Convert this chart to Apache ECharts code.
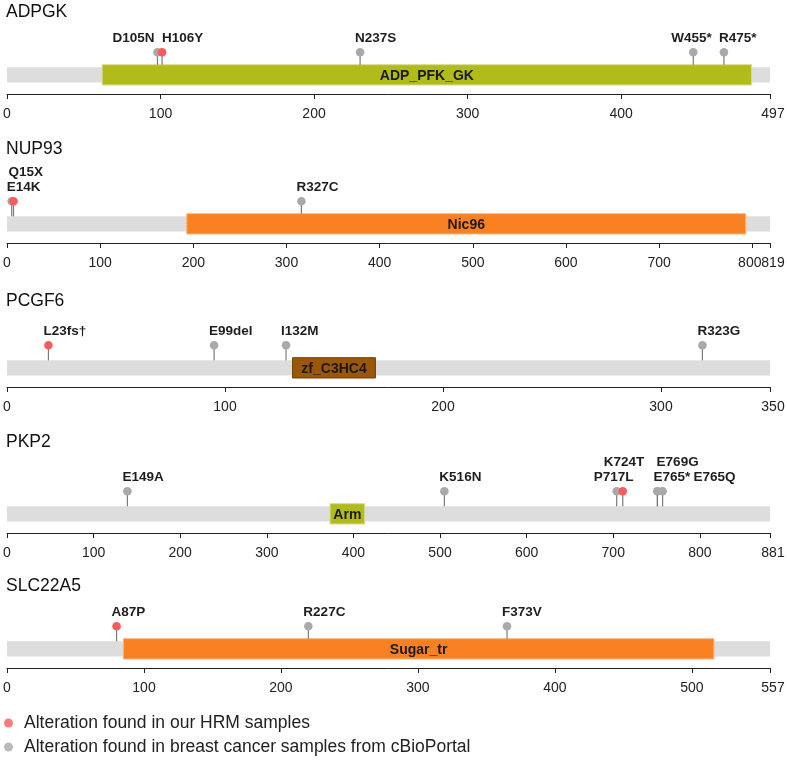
<!DOCTYPE html>
<html><head><meta charset="utf-8">
<script src="https://cdn.jsdelivr.net/npm/echarts@6/dist/echarts.min.js"></script>
<style>html,body{margin:0;padding:0;background:#fff}#c{width:787px;height:761px}</style>
</head><body><div id="c"></div>
<script>
// ---------------- data ----------------
const genes = ['ADPGK', 'NUP93', 'PCGF6', 'PKP2', 'SLC22A5'];
const proteinLengths = [497, 819, 350, 881, 557];
const tickValues = [
  [0, 100, 200, 300, 400, 497],
  [0, 100, 200, 300, 400, 500, 600, 700, 800, 819],
  [0, 100, 200, 300, 350],
  [0, 100, 200, 300, 400, 500, 600, 700, 800, 881],
  [0, 100, 200, 300, 400, 500, 557]
];
const domainNames = ['ADP_PFK_GK', 'Nic96', 'zf_C3HC4', 'Arm', 'Sugar_tr'];
const domainStarts = [62, 193, 131, 373, 85];
const domainEnds = [485, 793, 169, 413, 516];
const mutationLabels = [
  ['D105N', 'H106Y', 'N237S', 'W455*', 'R475*'],
  ['E14K', 'Q15X', 'R327C'],
  ['L23fs\u2020', 'E99del', 'I132M', 'R323G'],
  ['E149A', 'K516N', 'P717L', 'K724T', 'E765*', 'E765Q', 'E769G'],
  ['A87P', 'R227C', 'F373V']
];
const mutationPositions = [
  [98, 101, 230, 447, 467],
  [5, 7, 316],
  [19, 95, 128, 319],
  [139, 505, 704, 711, 751, 751, 757],
  [80, 220, 365]
];
const mutationSources = [
  ['cBioPortal', 'HRM', 'cBioPortal', 'cBioPortal', 'cBioPortal'],
  ['cBioPortal', 'HRM', 'cBioPortal'],
  ['HRM', 'cBioPortal', 'cBioPortal', 'cBioPortal'],
  ['cBioPortal', 'cBioPortal', 'cBioPortal', 'HRM', 'cBioPortal', 'cBioPortal', 'cBioPortal'],
  ['HRM', 'cBioPortal', 'cBioPortal']
];
const legendNames = ['Alteration found in our HRM samples', 'Alteration found in breast cancer samples from cBioPortal'];

// ---------------- layout / style ----------------
const FONT = '"Liberation Sans", Arial, sans-serif';
const PLOT_W = 763;
const axisY = [94, 243, 387, 533, 668];
const titleY = [13, 150, 302, 443, 587];
const GH = 80;                      // grid height (px == y units)
const GRAY_TOP = 26.7, GRAY_BOT = 11.5, DOM_TOP = 29.3, DOM_BOT = 9;
const CIRCLE_Y = 41.8, ROW0 = 55.5, ROW_STEP = 15;
const sourceColor = { HRM: '#fb5b5e', cBioPortal: '#a9a9a9' };
const domainColor = {
  ADP_PFK_GK: ['#b1bc1b', '#d8dc8c'],
  Nic96: ['#f98122', '#fbb47a'],
  zf_C3HC4: ['#9a5709', '#6e3e05'],
  Arm: ['#b1bc1b', '#d8dc8c'],
  Sugar_tr: ['#f98122', '#fbb47a']
};
// label nudges: [dx of label left edge from the stem, row]
const labelNudge = {
  'ADPGK|D105N': [-45, 0], 'ADPGK|H106Y': [0, 0], 'ADPGK|W455*': [-22, 0],
  'NUP93|Q15X': [-5, 1],
  'PKP2|P717L': [-23, 0], 'PKP2|K724T': [-19, 1], 'PKP2|E765*': [-4, 0],
  'PKP2|E765Q': [36, 0], 'PKP2|E769G': [-6, 1]
};
const labelStyle = { fontSize: 14, color: '#222', margin: 13, fontFamily: FONT, hideOverlap: false };

const chart = echarts.init(document.getElementById('c'), null, { renderer: 'canvas' });

const grids = [], xAxes = [], overlayAxes = [], yAxes = [], series = [], titles = [];
genes.forEach((g, i) => {
  const ticks = tickValues[i];
  const n = ticks.length;
  const crowded = (ticks[n - 1] - ticks[n - 2]) * PLOT_W / proteinLengths[i] < 30 ? ticks[n - 2] : null;
  grids.push({ left: 7, right: 17, top: axisY[i] - GH, height: GH, outerBoundsMode: 'none', containLabel: false });
  xAxes.push({
    type: 'value', gridIndex: i, min: 0, max: proteinLengths[i], position: 'bottom',
    splitLine: { show: false },
    axisLine: { onZero: false, lineStyle: { color: '#222', width: 1 } },
    axisTick: { length: 5, customValues: ticks, lineStyle: { color: '#222' } },
    axisLabel: Object.assign({
      customValues: ticks.slice(0, -1), showMinLabel: true,
      formatter: v => (v === crowded ? '{s|' + v + '}' : String(v)),
      rich: { s: { fontSize: 14, color: '#222', fontFamily: FONT, padding: [0, 5, 0, 0] } }
    }, labelStyle)
  });
  // overlay axis carrying only the end (protein length) label, so it is never dropped
  overlayAxes.push({
    type: 'value', gridIndex: i, min: 0, max: proteinLengths[i], position: 'bottom', offset: 0,
    splitLine: { show: false }, axisLine: { show: false, onZero: false }, axisTick: { show: false },
    axisLabel: Object.assign({ customValues: ticks.slice(-1), showMaxLabel: true, padding: [0, 0, 0, 6] }, labelStyle)
  });
  yAxes.push({ type: 'value', gridIndex: i, min: 0, max: GH, show: false });
  titles.push({ text: g, left: 6, top: titleY[i] - 10, padding: 0,
    textStyle: { fontSize: 17.5, fontWeight: 'normal', color: '#111', fontFamily: FONT } });

  // backbone
  series.push({
    type: 'custom', xAxisIndex: i, yAxisIndex: i, silent: true,
    data: [[0, proteinLengths[i]]],
    renderItem: (p, api) => {
      const a = api.coord([api.value(0), GRAY_TOP]), b = api.coord([api.value(1), GRAY_BOT]);
      return { type: 'rect', shape: { x: a[0], y: a[1], width: b[0] - a[0], height: b[1] - a[1] }, style: { fill: '#dddddd' } };
    }
  });
  // domain
  series.push({
    type: 'custom', xAxisIndex: i, yAxisIndex: i, silent: true,
    data: [[domainStarts[i], domainEnds[i], domainNames[i]]],
    renderItem: (p, api) => {
      const name = domainNames[i];
      const a = api.coord([api.value(0), DOM_TOP]), b = api.coord([api.value(1), DOM_BOT]);
      const c = domainColor[name];
      return { type: 'group', children: [
        { type: 'rect', shape: { x: a[0], y: a[1], width: b[0] - a[0], height: b[1] - a[1] },
          style: { fill: c[0], stroke: c[1], lineWidth: 1 } },
        { type: 'text', style: { text: name, x: (a[0] + b[0]) / 2, y: (a[1] + b[1]) / 2 + 1,
          align: 'center', verticalAlign: 'middle', fill: '#1a1a1a',
          font: 'bold 14px ' + FONT } }
      ] };
    }
  });
  // mutations (lollipops)
  const mdata = mutationPositions[i].map((pos, k) => [pos, k]);
  series.push({
    type: 'custom', xAxisIndex: i, yAxisIndex: i, silent: true,
    data: mdata,
    renderItem: (p, api) => {
      const k = api.value(1);
      const label = mutationLabels[i][k];
      const src = mutationSources[i][k];
      const pos = api.value(0);
      const inDomain = pos >= domainStarts[i] && pos <= domainEnds[i];
      const base = api.coord([pos, inDomain ? DOM_TOP : GRAY_TOP]);
      const top = api.coord([pos, CIRCLE_Y]);
      const nudge = labelNudge[g + '|' + label] || [-5, 0];
      const ly = api.coord([pos, ROW0 + nudge[1] * ROW_STEP])[1];
      return { type: 'group', children: [
        { type: 'line', shape: { x1: base[0], y1: base[1], x2: top[0], y2: top[1] },
          style: { stroke: '#7a7a7a', lineWidth: 1.2 } },
        { type: 'circle', shape: { cx: top[0], cy: top[1], r: 4.3 }, style: { fill: sourceColor[src] } },
        { type: 'text', style: { text: label, x: top[0] + nudge[0], y: ly,
          align: 'left', verticalAlign: 'middle', fill: '#1e1e1e', font: 'bold 13.5px ' + FONT } }
      ] };
    }
  });
});

// legend series (empty, only for the legend)
legendNames.forEach((n, j) => {
  series.push({ type: 'scatter', name: n, xAxisIndex: 0, yAxisIndex: 0, data: [],
    itemStyle: { color: j === 0 ? sourceColor.HRM : sourceColor.cBioPortal } });
});

chart.setOption({
  animation: false,
  title: titles,
  grid: grids,
  xAxis: xAxes.concat(overlayAxes),
  yAxis: yAxes,
  legend: {
    orient: 'vertical', left: 4, top: 713, itemWidth: 9, itemHeight: 9, itemGap: 4,
    icon: 'circle', selectedMode: false, padding: 0,
    textStyle: { fontSize: 17.5, color: '#222', fontFamily: FONT, lineHeight: 20, padding: [0, 0, 0, 6] },
    data: legendNames
  },
  series: series
});
</script>
</body></html>
